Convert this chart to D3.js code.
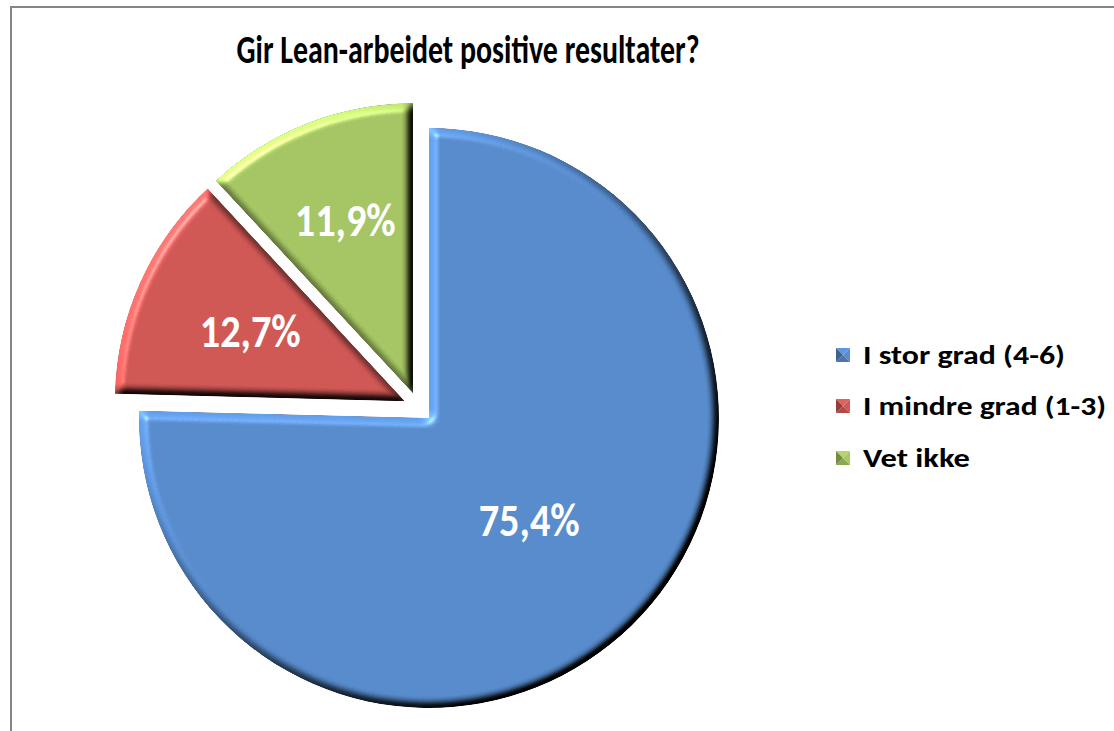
<!DOCTYPE html>
<html>
<head>
<meta charset="utf-8">
<script src="https://cdn.jsdelivr.net/npm/d3@7/dist/d3.min.js"></script>
<style>
  html, body { margin: 0; padding: 0; background: #fff; overflow: hidden; }
  svg { display: block; }
</style>
</head>
<body>
<svg id="chart" width="1114" height="731"></svg>
<script>
// ---- data ----
const title = "Gir Lean-arbeidet positive resultater?";
const categories = ["I stor grad (4-6)", "I mindre grad (1-3)", "Vet ikke"];
const values = [75.4, 12.7, 11.9];
const valueLabels = ["75,4%", "12,7%", "11,9%"];
const colors = ["#5588C8", "#CC5552", "#A2C160"];

// ---- layout ----
const W = 1114, H = 731;
const FONT = "Carlito, Calibri, Lato, 'Open Sans', sans-serif";
const cx = 418.5, cy = 407.3, R = 290, explode = 15;
const labelFrac = [0.495, 0.585, 0.64];

const svg = d3.select("#chart");
const defs = svg.append("defs");

// bevel filter
function bevel(id, std, scale) {
  const el = 45;
  const f = defs.append("filter").attr("id", id)
    .attr("x", "-5%").attr("y", "-5%").attr("width", "110%").attr("height", "110%")
    .attr("color-interpolation-filters", "sRGB");
  f.append("feGaussianBlur").attr("in", "SourceAlpha").attr("stdDeviation", std).attr("result", "blur");
  const dl = f.append("feDiffuseLighting").attr("in", "blur").attr("surfaceScale", scale)
    .attr("diffuseConstant", 1).attr("lighting-color", "#ffffff").attr("result", "diff");
  dl.append("feDistantLight").attr("azimuth", 225).attr("elevation", el);
  f.append("feComposite").attr("in", "SourceGraphic").attr("in2", "diff")
    .attr("operator", "arithmetic").attr("k1", 1 / Math.sin(el * Math.PI / 180))
    .attr("k2", 0).attr("k3", 0).attr("k4", 0).attr("result", "lit");
  const sl = f.append("feSpecularLighting").attr("in", "blur").attr("surfaceScale", scale)
    .attr("specularConstant", 0.5).attr("specularExponent", 35)
    .attr("lighting-color", "#ffffff").attr("result", "spec");
  sl.append("feDistantLight").attr("azimuth", 225).attr("elevation", el);
  f.append("feComposite").attr("in", "lit").attr("in2", "spec")
    .attr("operator", "arithmetic").attr("k1", 0).attr("k2", 1).attr("k3", 0.5).attr("k4", 0)
    .attr("result", "both");
  f.append("feComposite").attr("in", "both").attr("in2", "SourceAlpha").attr("operator", "in");
}
bevel("bevel", 4, 7);

// background + border
svg.append("rect").attr("x", 0).attr("y", 0).attr("width", W).attr("height", H).attr("fill", "#fff");
svg.append("rect").attr("x", 11).attr("y", 7).attr("width", W + 50).attr("height", H + 50)
  .attr("fill", "#fff").attr("stroke", "#868686").attr("stroke-width", 2);

// title
svg.append("text")
  .attr("x", 468).attr("y", 63)
  .attr("text-anchor", "middle")
  .attr("font-family", FONT).attr("font-weight", "bold")
  .attr("font-size", 41).attr("fill", "#000")
  .attr("textLength", 463).attr("lengthAdjust", "spacingAndGlyphs")
  .text(title);

// pie
const pie = d3.pie().sort(null).value(d => d).startAngle(0).endAngle(2 * Math.PI);
const arcs = pie(values);
const arc = d3.arc().innerRadius(0).outerRadius(R);
const color = d3.scaleOrdinal().domain(categories).range(colors);

const g = svg.append("g").attr("transform", `translate(${cx},${cy})`);
const slices = g.selectAll("g.slice").data(arcs).enter().append("g")
  .attr("class", "slice")
  .attr("transform", d => {
    const m = (d.startAngle + d.endAngle) / 2;
    return `translate(${Math.sin(m) * explode},${-Math.cos(m) * explode})`;
  });
slices.append("path")
  .attr("d", arc)
  .attr("fill", (d, i) => color(categories[i]))
  .attr("filter", "url(#bevel)");

slices.append("text")
  .attr("x", (d, i) => Math.sin((d.startAngle + d.endAngle) / 2) * R * labelFrac[i])
  .attr("y", (d, i) => -Math.cos((d.startAngle + d.endAngle) / 2) * R * labelFrac[i])
  .attr("dy", "0.33em")
  .attr("text-anchor", "middle")
  .attr("font-family", FONT).attr("font-weight", "bold")
  .attr("font-size", 46).attr("fill", "#fff")
  .attr("textLength", 101).attr("lengthAdjust", "spacingAndGlyphs")
  .text((d, i) => valueLabels[i]);

// legend
const legend = svg.append("g").attr("transform", "translate(836,0)");
const rowY = [355, 406, 458];
const legendWidths = [202, 243, 107];
const items = legend.selectAll("g.item").data(categories).enter().append("g")
  .attr("class", "item")
  .attr("transform", (d, i) => `translate(0,${rowY[i]})`);
const s = 14;
function tri(pts) { return "M" + pts.map(p => p.join(",")).join("L") + "Z"; }
items.each(function (d) {
  const it = d3.select(this);
  const base = d3.color(color(d));
  const h = s / 2;
  const x0 = 0, y0 = -h, x1 = s, y1 = h, mx = s / 2, my = 0;
  it.append("path").attr("d", tri([[x0, y0], [x1, y0], [mx, my]])).attr("fill", base.brighter(0.3));
  it.append("path").attr("d", tri([[x1, y0], [x1, y1], [mx, my]])).attr("fill", base.brighter(0.1));
  it.append("path").attr("d", tri([[x0, y1], [x1, y1], [mx, my]])).attr("fill", base.darker(0.4));
  it.append("path").attr("d", tri([[x0, y0], [x0, y1], [mx, my]])).attr("fill", base.darker(0.9));
});
items.append("text")
  .attr("x", 27).attr("y", 0).attr("dy", "0.34em")
  .attr("font-family", FONT).attr("font-weight", "bold")
  .attr("font-size", 26).attr("fill", "#000")
  .attr("textLength", (d, i) => legendWidths[i]).attr("lengthAdjust", "spacingAndGlyphs")
  .text(d => d);
</script>
</body>
</html>
